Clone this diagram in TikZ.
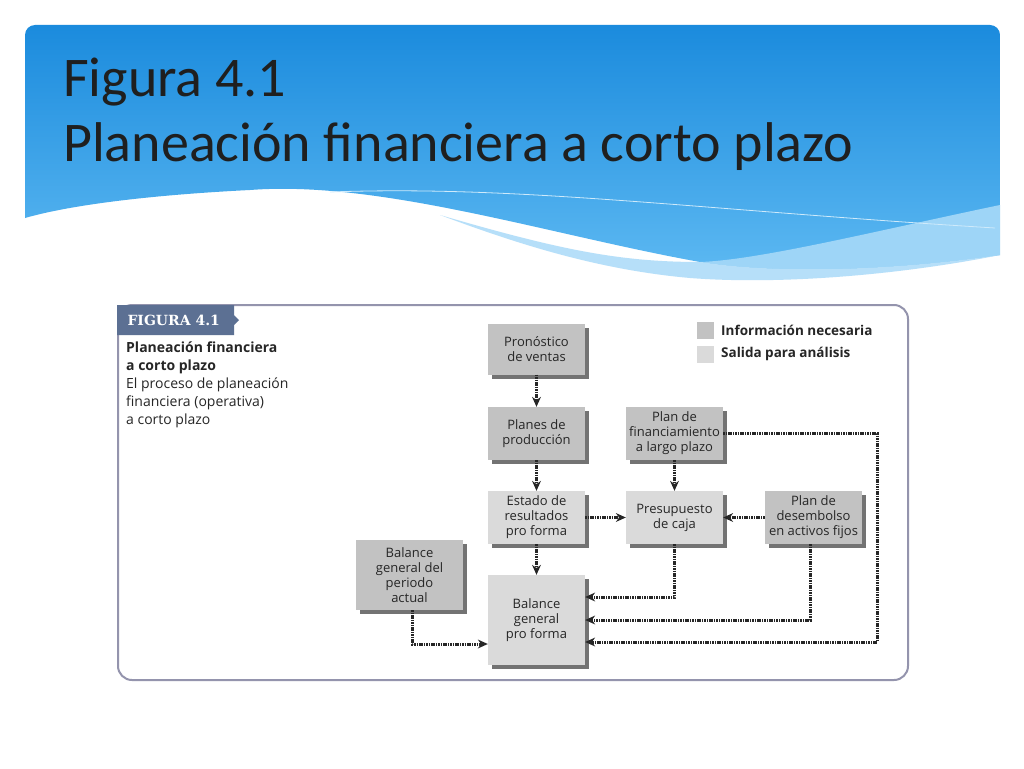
\documentclass[tikz,border=0pt]{standalone}
\usepackage{fontspec}
\setmainfont{Carlito}
\newfontfamily\boxfont{Open Sans}
\newfontfamily\tabfont{DejaVu Serif}
\usetikzlibrary{arrows.meta,shadows}
\definecolor{dk}{HTML}{C2C2C2}
\definecolor{lt}{HTML}{DADADA}
\definecolor{tabc}{HTML}{5C7093}
\definecolor{bluetop}{HTML}{1B8BDD}
\definecolor{bluebot}{HTML}{5DB9F2}
\tikzset{
 bx/.style={minimum width=97pt,minimum height=53pt,align=center,inner sep=1pt,
   font=\boxfont\fontsize{13}{15}\selectfont, text=black!85,
   general shadow={shadow xshift=4pt,shadow yshift=-4pt,fill=black!55}},
 inbx/.style={bx,fill=dk},
 outbx/.style={bx,fill=lt},
 dl/.style={line width=3pt,dash pattern=on 1.6pt off 0.8pt,black!85,
   -{Stealth[length=10pt,width=9pt,line width=0pt]}}
}
\begin{document}
\begin{tikzpicture}[x=1pt,y=-1pt]
\useasboundingbox (0,0) rectangle (1024,768);
\fill[white] (0,0) rectangle (1024,768);
% header
\shade[top color=bluetop,bottom color=bluebot,rounded corners=10pt]
 (25,218) -- (25,25) -- (1000,25) [sharp corners] -- (1000,255) .. controls (900,270) and (780,275) .. (700,262)
 .. controls (550,235) and (380,180) .. (250,190)
 .. controls (150,195) and (70,205) .. (25,218) -- cycle;
\fill[bluebot!60!white] (1000,205) .. controls (880,230) and (760,260) .. (700,262)
 .. controls (780,275) and (900,270) .. (1000,255) -- cycle;
\fill[bluebot!45!white] (1000,255) .. controls (900,275) and (780,285) .. (690,278)
 .. controls (600,270) and (520,245) .. (440,215)
 .. controls (560,250) and (620,262) .. (700,262)
 .. controls (780,275) and (900,270) .. (1000,255) -- cycle;
\draw[white!70!bluebot,line width=0.8pt] (330,192) .. controls (520,185) and (700,210) .. (995,228);
\node[anchor=base west,font=\fontsize{56}{60}\selectfont,text=black!88,inner sep=0] (t1) at (63,96) {Figura 4.1};
\node[anchor=base west,font=\fontsize{56}{60}\selectfont,text=black!88,inner sep=0] (t2) at (63,161) {Planeación financiera a corto plazo};
% frame
\draw[black!30!blue!20!gray!70,line width=2pt,rounded corners=14pt] (118,305) rectangle (908,680);
\fill[tabc] (117,305) rectangle (234,335) -- (234,315) -- (239,320) -- (234,325) -- cycle;
\node[font=\tabfont\bfseries\fontsize{14}{16}\selectfont,text=white,anchor=west] (tab) at (124,320.5) {FIGURA 4.1};
\node[anchor=north west,align=left,font=\boxfont\fontsize{14}{18}\selectfont,inner sep=0,text=black!85] (cap) at (126,342)
 {\textbf{Planeación financiera}\\\textbf{a corto plazo}\\El proceso de planeación\\financiera (operativa)\\a corto plazo};
% legend
\fill[dk] (697,322) rectangle (714,339);
\fill[lt] (697,346) rectangle (714,363);
\node[anchor=west,font=\boxfont\bfseries\fontsize{13.5}{15}\selectfont,text=black!85,inner sep=0] (l1) at (721,330) {Información necesaria};
\node[anchor=west,font=\boxfont\bfseries\fontsize{13.5}{15}\selectfont,text=black!85,inner sep=0] (l2) at (721,354) {Salida para análisis};
% boxes
\node[inbx,minimum height=51pt] (pv) at (536.5,349) {Pronóstico\\de ventas};
\node[inbx] (pp) at (536.5,433.5) {Planes de\\producción};
\node[outbx] (er) at (536.5,517.5) {Estado de\\resultados\\pro forma};
\node[outbx,minimum height=90pt] (bpf) at (536.5,620) {Balance\\general\\pro forma};
\node[inbx,minimum width=107pt,minimum height=70pt] (ba) at (409.5,575) {Balance\\general del\\periodo\\actual};
\node[inbx] (pf) at (674.5,433.5) {Plan de\\financiamiento\\a largo plazo};
\node[outbx] (pc) at (674.5,517.5) {Presupuesto\\de caja};
\node[inbx] (pd) at (813.5,517.5) {Plan de\\desembolso\\en activos fijos};
% connectors
\draw[dl] (pv) -- (pp);
\draw[dl] (pp) -- (er);
\draw[dl] (er) -- (bpf);
\draw[dl] (er) -- (pc);
\draw[dl] (pd) -- (pc);
\draw[dl] (pf) -- (pc);
\draw[dl] (pc.south) |- (bpf.east |- 0,597);
\draw[dl] (pd.south -| 810,0) |- (bpf.east |- 0,620);
\draw[dl] (pf.east) -- (877,433.5) |- (bpf.east |- 0,642);
\draw[dl] (ba.south -| 412,0) |- (bpf.west |- 0,644);
\end{tikzpicture}
\end{document}
